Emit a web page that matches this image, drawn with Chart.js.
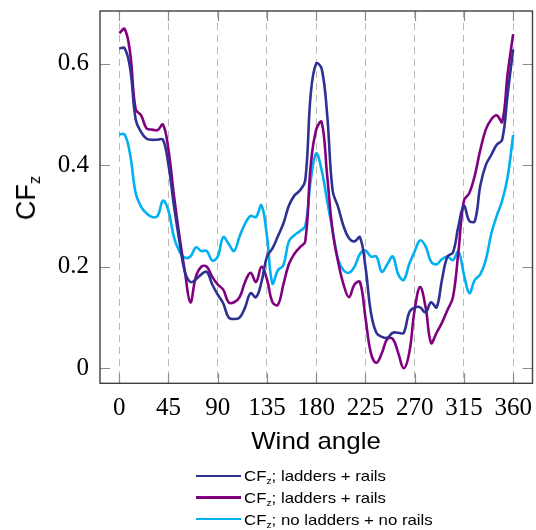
<!DOCTYPE html>
<html>
<head>
<meta charset="utf-8">
<script src="https://cdn.jsdelivr.net/npm/chart.js@4/dist/chart.umd.min.js"></script>
<style>
  html, body { margin: 0; padding: 0; background: #ffffff; }
  #wrap { position: relative; width: 536px; height: 530px; overflow: hidden; }
  #chart { position: absolute; left: 0; top: 0; }
  .lbl { position: absolute; font-family: "Liberation Sans", Arial, sans-serif; color: #000; white-space: nowrap; }
  .lbl sub { font-size: 0.62em; vertical-align: -0.28em; line-height: 0; }
  #xtitle { left: 316px; top: 441px; font-size: 24px; line-height: 28px; transform: translate(-50%, -50%) scaleX(1.08); }
  #ytitle { left: 26px; top: 198px; font-size: 27px; line-height: 30px; transform: translate(-50%, -50%) rotate(-90deg); }
  #legend { position: absolute; left: 196px; top: 465px; }
  .row { display: flex; align-items: center; height: 21.7px; font-family: "Liberation Sans", Arial, sans-serif; font-size: 15px; }
  .row .swatch { width: 45px; height: 2.4px; margin-right: 3px; flex: none; }
  .row .txt { display: inline-block; transform-origin: 0 50%; transform: scaleX(1.12); }
  .row sub { font-size: 0.62em; vertical-align: -0.3em; line-height: 0; }
</style>
</head>
<body>
<div id="wrap">
  <canvas id="chart" width="536" height="530"></canvas>
  <div id="xtitle" class="lbl">Wind angle</div>
  <div id="ytitle" class="lbl">CF<sub>z</sub></div>
  <div id="legend"></div>
</div>
<script>
// Wind angle samples (degrees)
const angles = [0,5,10,15,20,25,30,35,40,45,50,55,60,65,70,75,80,85,90,95,100,105,110,115,120,125,130,135,140,145,150,155,160,165,170,175,180,185,190,195,200,205,210,215,220,225,230,235,240,245,250,255,260,265,270,275,280,285,290,295,300,305,310,315,320,325,330,335,340,345,350,355,360];

// CFz, ladders + rails (first configuration)
const cfzLaddersRailsA = [0.63,0.63,0.59,0.49,0.465,0.452,0.45,0.45,0.45,0.40,0.32,0.25,0.19,0.17,0.175,0.185,0.19,0.165,0.145,0.128,0.10,0.097,0.10,0.12,0.148,0.14,0.17,0.22,0.236,0.26,0.285,0.32,0.34,0.35,0.37,0.54,0.60,0.59,0.50,0.35,0.318,0.28,0.256,0.25,0.258,0.20,0.11,0.07,0.062,0.06,0.07,0.07,0.07,0.11,0.12,0.12,0.11,0.13,0.12,0.175,0.22,0.228,0.28,0.32,0.29,0.29,0.36,0.40,0.42,0.44,0.45,0.54,0.628];

// CFz, ladders + rails (second configuration)
const cfzLaddersRailsB = [0.66,0.668,0.62,0.51,0.498,0.472,0.47,0.469,0.48,0.43,0.34,0.26,0.19,0.13,0.18,0.20,0.20,0.18,0.165,0.155,0.13,0.13,0.14,0.17,0.188,0.17,0.20,0.175,0.13,0.125,0.165,0.205,0.225,0.238,0.25,0.40,0.47,0.485,0.38,0.27,0.21,0.165,0.14,0.165,0.17,0.10,0.03,0.011,0.03,0.058,0.058,0.03,0.0,0.03,0.115,0.16,0.12,0.05,0.07,0.09,0.115,0.14,0.23,0.33,0.345,0.38,0.43,0.47,0.49,0.498,0.485,0.58,0.658];

// CFz, no ladders + no rails
const cfzNoLaddersNoRails = [0.461,0.46,0.42,0.345,0.318,0.305,0.298,0.30,0.33,0.31,0.258,0.23,0.218,0.22,0.238,0.231,0.231,0.212,0.22,0.258,0.245,0.231,0.26,0.285,0.30,0.298,0.321,0.26,0.167,0.193,0.203,0.25,0.262,0.27,0.28,0.37,0.423,0.39,0.33,0.272,0.215,0.193,0.188,0.20,0.225,0.232,0.22,0.22,0.19,0.205,0.22,0.185,0.174,0.205,0.23,0.252,0.24,0.21,0.205,0.215,0.22,0.213,0.23,0.185,0.148,0.174,0.185,0.213,0.265,0.30,0.33,0.377,0.459];

// Axis tick values
const xTickValues = [0,45,90,135,180,225,270,315,360];
const yTickValues = [0,0.2,0.4,0.6];

const seriesNames = ['ladders + rails','ladders + rails','no ladders + no rails'];
const seriesValues = [cfzLaddersRailsA, cfzLaddersRailsB, cfzNoLaddersNoRails];
const seriesColors = ['#2e3192','#800080','#00b0f0'];

const datasets = seriesValues.map((vals, i) => ({
  label: 'CFz; ' + seriesNames[i],
  data: angles.map((a, k) => ({ x: a, y: vals[k] })),
  borderColor: seriesColors[i],
  backgroundColor: seriesColors[i],
  borderWidth: 2.6,
  pointRadius: 0,
  tension: 0.4,
  fill: false,
  order: i + 1
}));

// Frame with inward tick marks on all four sides
const frameTicks = {
  id: 'frameTicks',
  afterDatasetsDraw(chart) {
    const { ctx, chartArea: a, scales: { x, y } } = chart;
    ctx.save();
    ctx.strokeStyle = '#8c8c8c';
    ctx.lineWidth = 1.2;
    ctx.beginPath();
    const len = 10;
    y.ticks.forEach(t => {
      const py = Math.round(y.getPixelForValue(t.value)) + 0.5;
      ctx.moveTo(a.left, py); ctx.lineTo(a.left + len, py);
      ctx.moveTo(a.right, py); ctx.lineTo(a.right - len, py);
    });
    x.ticks.forEach(t => {
      const px = Math.round(x.getPixelForValue(t.value)) + 0.5;
      ctx.moveTo(px, a.bottom); ctx.lineTo(px, a.bottom - len);
      ctx.moveTo(px, a.top); ctx.lineTo(px, a.top + len);
    });
    ctx.stroke();
    ctx.strokeStyle = '#404040';
    ctx.lineWidth = 1.4;
    ctx.strokeRect(a.left, a.top, a.right - a.left, a.bottom - a.top);
    ctx.restore();
  }
};

const serifFont = { family: '"Liberation Serif", "Times New Roman", serif', size: 25 };

new Chart(document.getElementById('chart'), {
  type: 'line',
  data: { datasets },
  plugins: [frameTicks],
  options: {
    responsive: false,
    animation: false,
    layout: { padding: { top: 11, right: 3.5, left: 0, bottom: 0 } },
    plugins: { legend: { display: false }, tooltip: { enabled: false } },
    scales: {
      x: {
        type: 'linear',
        min: -17.6,
        max: 377.7,
        afterBuildTicks: s => { s.ticks = xTickValues.map(v => ({ value: v })); },
        afterFit: s => { s.height = 146.7; s.paddingLeft = 0; s.paddingRight = 0; },
        grid: { display: true, color: '#b8b8b8', lineWidth: 1, drawTicks: false },
        border: { display: false, dash: [7, 5] },
        ticks: {
          padding: 10,
          maxRotation: 0,
          autoSkip: false,
          color: '#000',
          font: serifFont,
          callback: v => String(v)
        }
      },
      y: {
        type: 'linear',
        min: -0.0295,
        max: 0.7035,
        afterBuildTicks: s => { s.ticks = yTickValues.map(v => ({ value: v })); },
        afterFit: s => { s.width = 100; s.paddingTop = 0; s.paddingBottom = 0; },
        grid: { display: false, drawTicks: false },
        border: { display: false },
        ticks: {
          padding: 11,
          color: '#000',
          font: serifFont,
          callback: v => (v === 0 ? '0' : v.toFixed(1))
        }
      }
    }
  }
});

// Legend rows
const legend = document.getElementById('legend');
seriesNames.forEach((name, i) => {
  const row = document.createElement('div');
  row.className = 'row';
  const sw = document.createElement('span');
  sw.className = 'swatch';
  sw.style.background = seriesColors[i];
  const txt = document.createElement('span');
  txt.className = 'txt';
  txt.innerHTML = 'CF<sub>z</sub>; ' + name;
  row.appendChild(sw); row.appendChild(txt);
  legend.appendChild(row);
});
</script>
</body>
</html>
